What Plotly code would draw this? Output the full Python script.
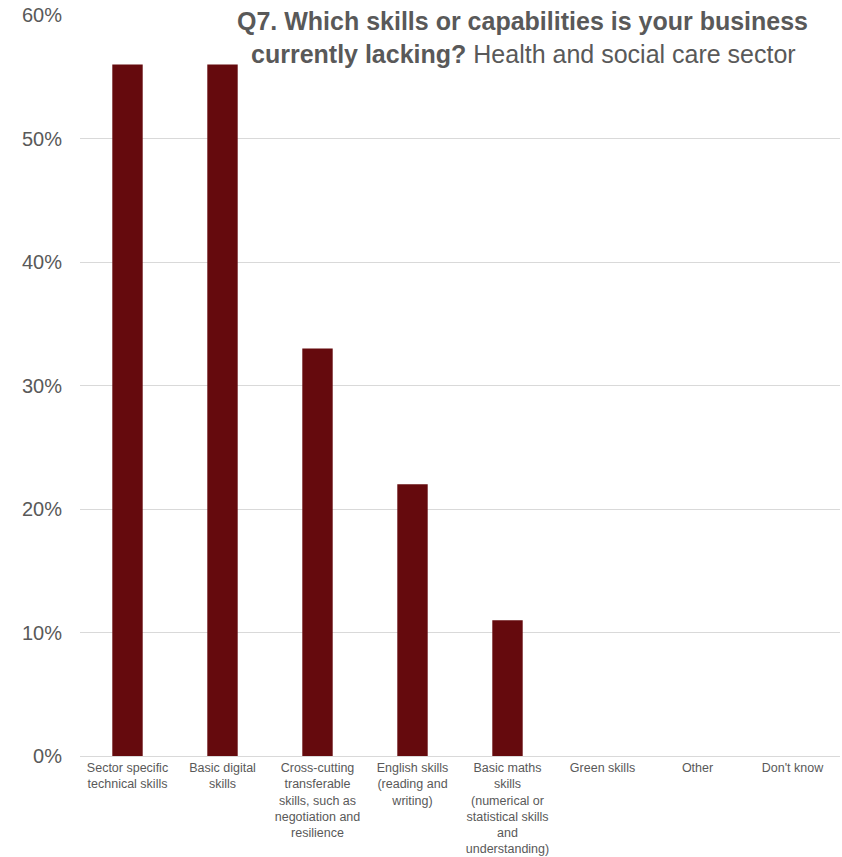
import plotly.graph_objects as go

# Skills gaps reported by health and social care businesses
categories = [
    "Sector specific<br>technical skills",
    "Basic digital<br>skills",
    "Cross-cutting<br>transferable<br>skills, such as<br>negotiation and<br>resilience",
    "English skills<br>(reading and<br>writing)",
    "Basic maths<br>skills<br>(numerical or<br>statistical skills<br>and<br>understanding)",
    "Green skills",
    "Other",
    "Don't know",
]
shares = [0.56, 0.56, 0.33, 0.22, 0.11, 0.0, 0.0, 0.0]
y_ticks = [0, 0.1, 0.2, 0.3, 0.4, 0.5, 0.6]
y_tick_text = ["0%", "10%", "20%", "30%", "40%", "50%", "60%"]
title_lines = [
    "<b>Q7. Which skills or capabilities is your business</b>",
    "<b>currently lacking?</b> Health and social care sector",
]

bar_color = "#650a0d"
text_grey = "#595959"
grid_grey = "#d9d9d9"

fig = go.Figure(
    go.Bar(
        x=categories,
        y=shares,
        marker=dict(color=bar_color, line=dict(width=0)),
        hoverinfo="skip",
    )
)

# Two-line title, each line placed separately for tight line spacing
title_annotations = [
    dict(
        text=line,
        xref="paper", yref="paper",
        x=xpos, y=ypos,
        xanchor="center", yanchor="middle",
        showarrow=False,
        font=dict(size=25, color=text_grey),
    )
    for line, xpos, ypos in zip(title_lines, [0.582, 0.584], [0.9919, 0.9474])
]

fig.update_layout(
    width=842,
    height=857,
    margin=dict(l=80, r=2, t=15, b=101),
    paper_bgcolor="white",
    plot_bgcolor="white",
    bargap=0.68,
    showlegend=False,
    font=dict(family="Liberation Sans, Arial, sans-serif", color=text_grey),
    annotations=title_annotations,
)

fig.update_xaxes(
    showgrid=False,
    showline=True,
    linecolor=grid_grey,
    linewidth=1,
    ticks="",
    tickangle=0,
    tickfont=dict(size=12.5, color=text_grey),
)

fig.update_yaxes(
    range=[0, 0.6],
    tickvals=y_ticks,
    ticktext=y_tick_text,
    showgrid=True,
    gridcolor=grid_grey,
    gridwidth=1,
    zeroline=False,
    showline=False,
    ticks="",
    ticklabelstandoff=17,
    tickfont=dict(size=20, color=text_grey),
)

fig.write_html("out.html")
